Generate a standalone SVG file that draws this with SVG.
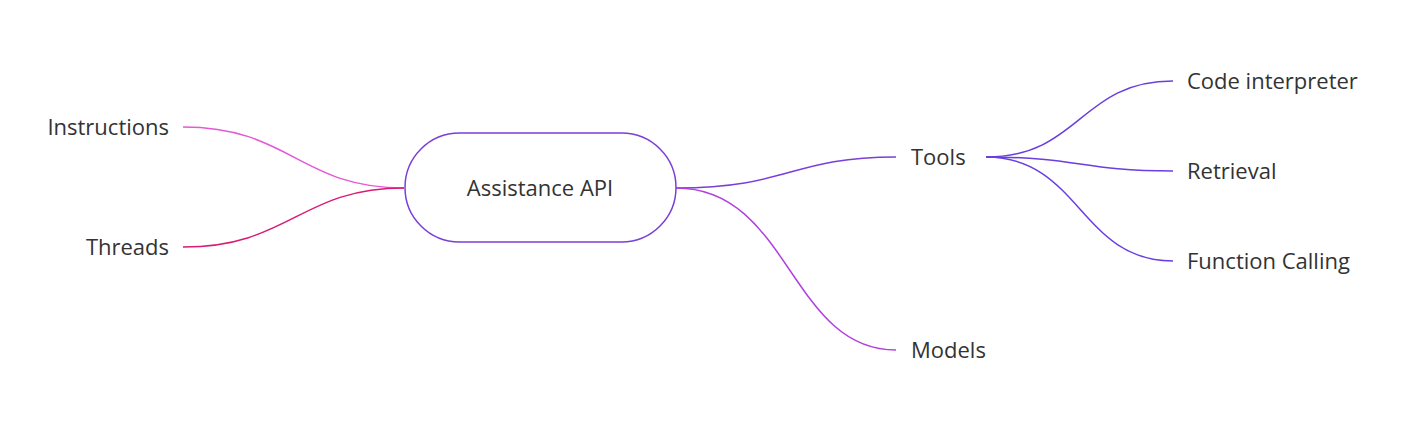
<svg xmlns="http://www.w3.org/2000/svg" width="1405" height="427" viewBox="0 0 1405 427">
<style>
text{font-family:"Open Sans","Noto Sans",sans-serif;font-size:22px;fill:#333}
.c{fill:none;stroke-width:1.5}
</style>
<rect width="1405" height="427" fill="#fff"/>
<g id="connectors">
<path class="c" stroke="#e558d6" d="M404,188 C300,188 290,127 183,127"/>
<path class="c" stroke="#d81b74" d="M404,188 C300,188 290,247 183,247"/>
<path class="c" stroke="#7a3fd8" d="M676,188 C790,188 790,157 896,157"/>
<path class="c" stroke="#b040e0" d="M676,188 C790,188 790,350 896,350"/>
<path class="c" stroke="#6a3ee0" d="M986,157 C1080,157 1080,81 1173,81"/>
<path class="c" stroke="#6a3ee0" d="M986,157 C1080,157 1080,171 1173,171"/>
<path class="c" stroke="#6a3ee0" d="M986,157 C1080,157 1080,261 1173,261"/>
</g>
<g id="root"><rect x="405" y="133" width="271" height="109" rx="54.5" fill="#fff" stroke="#7a3fd8" stroke-width="1.5"/><text x="540" y="196" text-anchor="middle">Assistance API</text></g>
<g id="instructions"><text x="169" y="135" text-anchor="end">Instructions</text></g>
<g id="threads"><text x="169" y="255" text-anchor="end">Threads</text></g>
<g id="tools"><text x="911" y="165">Tools</text></g>
<g id="models"><text x="911" y="358">Models</text></g>
<g id="code"><text x="1187" y="89">Code interpreter</text></g>
<g id="retrieval"><text x="1187" y="179">Retrieval</text></g>
<g id="function"><text x="1187" y="269">Function Calling</text></g>
</svg>
